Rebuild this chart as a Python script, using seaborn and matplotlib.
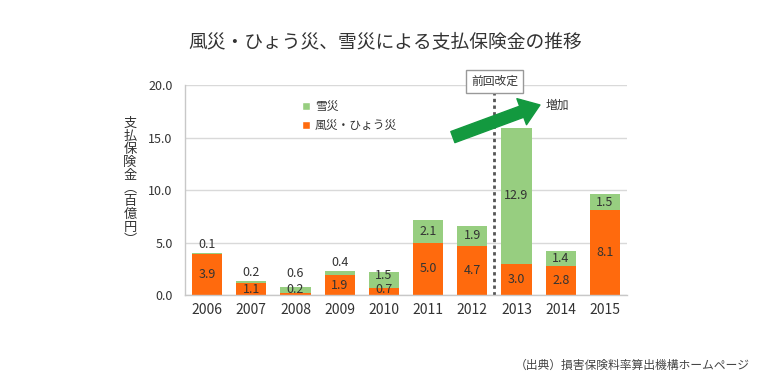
import matplotlib
matplotlib.use("Agg")
import matplotlib.pyplot as plt
import seaborn as sns
from matplotlib.patches import Patch

# Data
years = ["2006", "2007", "2008", "2009", "2010", "2011", "2012", "2013", "2014", "2015"]
wind_hail = [3.9, 1.1, 0.2, 1.9, 0.7, 5.0, 4.7, 3.0, 2.8, 8.1]   # 風災・ひょう災
snow = [0.1, 0.2, 0.6, 0.4, 1.5, 2.1, 1.9, 12.9, 1.4, 1.5]      # 雪災
y_ticks = [0, 5, 10, 15, 20]

ORANGE = "#FF6A0D"
GREEN = "#97CE80"
ARROW_GREEN = "#13993F"
TEXT = "#333333"

sns.set_theme(style="white")
plt.rcParams["font.family"] = ["Noto Sans CJK JP", "DejaVu Sans"]

totals = [a + b for a, b in zip(wind_hail, snow)]

fig = plt.figure(figsize=(7.7, 3.79), dpi=100)
ax = fig.add_axes([0.2403, 0.2216, 0.5740, 0.5541])

# stacked bars: total (green) behind, wind/hail (orange) in front
sns.barplot(x=years, y=totals, color=GREEN, saturation=1, width=0.68, errorbar=None,
            linewidth=0, ax=ax)
sns.barplot(x=years, y=wind_hail, color=ORANGE, saturation=1, width=0.68, errorbar=None,
            linewidth=0, ax=ax)

ax.set_ylim(0, 20)
ax.set_xlim(-0.5, len(years) - 0.5)
ax.set_yticks(y_ticks)
ax.set_yticklabels([f"{v:.1f}" for v in y_ticks], fontsize=9, color=TEXT)
ax.tick_params(axis="x", labelsize=10, colors=TEXT, length=0, pad=6)
ax.tick_params(axis="y", length=0, pad=9)
ax.set_xlabel("")
ax.set_ylabel("")
ax.yaxis.grid(True, color="#d9d9d9", linewidth=1)
ax.set_axisbelow(True)
for side in ["top", "right"]:
    ax.spines[side].set_visible(False)
for side in ["left", "bottom"]:
    ax.spines[side].set_color("#c8c8c8")
    ax.spines[side].set_linewidth(1)

# value labels
for i, (o, g) in enumerate(zip(wind_hail, snow)):
    oy = max(o / 2, 0.5)
    ax.text(i, oy, f"{o:.1f}", ha="center", va="center", fontsize=9, color=TEXT)
    if g < 0.7:
        gy = max(o + g, oy + 0.7) + 0.2
        ax.text(i, gy, f"{g:.1f}", ha="center", va="bottom", fontsize=9, color=TEXT)
    else:
        gy = max(o + g / 2, oy + 1.35)
        ax.text(i, gy, f"{g:.1f}", ha="center", va="center", fontsize=9, color=TEXT)

# revision marker
ax.plot([6.5, 6.5], [0, 0.962], transform=ax.get_xaxis_transform(), color="#555555",
        linewidth=2, linestyle=(0, (1.2, 1.2)), clip_on=False)
ax.text(6.5, 1.017, "前回改定", transform=ax.get_xaxis_transform(), ha="center", va="center",
        fontsize=8.5, color=TEXT,
        bbox=dict(boxstyle="square,pad=0.45", facecolor="white", edgecolor="#999999", linewidth=1))

# increase arrow
ax.annotate("", xy=(0.803, 0.905), xytext=(0.606, 0.752), xycoords="axes fraction",
            arrowprops=dict(arrowstyle="simple,head_length=14,head_width=20,tail_width=8.5",
                            mutation_scale=1, color=ARROW_GREEN, shrinkA=0, shrinkB=0))
ax.text(0.816, 0.905, "増加", transform=ax.transAxes, ha="left", va="center", fontsize=8.5, color=TEXT)

# legend
handles = [Patch(facecolor=GREEN, label="雪災"), Patch(facecolor=ORANGE, label="風災・ひょう災")]
ax.legend(handles=handles, loc="upper left", bbox_to_anchor=(0.24, 0.98), frameon=False,
          fontsize=8.5, handlelength=0.7, handleheight=0.7, handletextpad=0.4,
          labelspacing=0.55, labelcolor=TEXT)

# y axis label, written vertically
ylabel = "支払保険金︵百億円︶"
fig.text(130 / 770, 1 - 182 / 379, "\n".join(ylabel), ha="center", va="center",
         fontsize=9.5, color=TEXT, linespacing=1.0)

fig.text(0.5, 1 - 42 / 379, "風災・ひょう災、雪災による支払保険金の推移",
         ha="center", va="center", fontsize=13.5, color=TEXT)
fig.text(750 / 770, 1 - 365 / 379, "（出典）損害保険料率算出機構ホームページ",
         ha="right", va="center", fontsize=8.5, color="#444444")

fig.savefig("out.png", dpi=100, facecolor="white")
